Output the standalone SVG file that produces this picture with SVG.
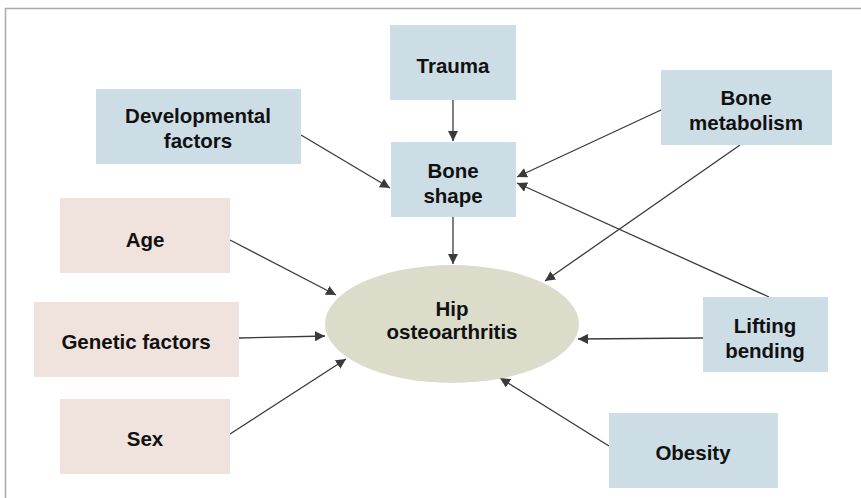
<svg xmlns="http://www.w3.org/2000/svg" width="861" height="498" viewBox="0 0 861 498">
<defs>
<marker id="ah" viewBox="0 0 10 10" refX="10" refY="5" markerWidth="10" markerHeight="10" markerUnits="userSpaceOnUse" orient="auto">
<path d="M0,0 L10,5 L0,10 z" fill="#3a3a3a"/>
</marker>
<style>
.b{fill:#cddde6}
.p{fill:#f0e2dc}
.t{font-family:"Liberation Sans",Arial,sans-serif;font-weight:bold;font-size:20.5px;fill:#111;text-anchor:middle;dominant-baseline:central}
.c line{stroke:#3a3a3a;stroke-width:1.3;marker-end:url(#ah)}
</style>
</defs>
<rect width="861" height="498" fill="#fff"/>
<path d="M5.5,498 V8.5 H861" fill="none" stroke="#aaa" stroke-width="1.5"/>
<g class="c">
<line x1="453" y1="100" x2="453" y2="141"/>
<line x1="453" y1="217" x2="453" y2="264"/>
<line x1="301" y1="135" x2="390" y2="188"/>
<line x1="661" y1="110" x2="517" y2="177"/>
<line x1="740" y1="145" x2="545" y2="281"/>
<line x1="769" y1="297" x2="517" y2="183"/>
<line x1="703" y1="338" x2="578" y2="339"/>
<line x1="609" y1="446" x2="500" y2="378"/>
<line x1="230" y1="240" x2="336" y2="295"/>
<line x1="239" y1="338" x2="325" y2="336"/>
<line x1="230" y1="434" x2="346" y2="359"/>
</g>
<g id="trauma"><rect class="b" x="390" y="25" width="126" height="75"/><text class="t" x="453" y="65">Trauma</text></g>
<g id="boneshape"><rect class="b" x="391" y="142" width="125" height="75"/><text class="t" x="453" y="170">Bone</text><text class="t" x="453" y="195">shape</text></g>
<g id="developmental"><rect class="b" x="96" y="89" width="205" height="75"/><text class="t" x="198" y="115">Developmental</text><text class="t" x="198" y="140">factors</text></g>
<g id="bonemetabolism"><rect class="b" x="661" y="70" width="171" height="75"/><text class="t" x="746" y="97">Bone</text><text class="t" x="746" y="122">metabolism</text></g>
<g id="age"><rect class="p" x="60" y="198" width="170" height="75"/><text class="t" x="145" y="239">Age</text></g>
<g id="genetic"><rect class="p" x="34" y="302" width="205" height="75"/><text class="t" x="136" y="341">Genetic factors</text></g>
<g id="sex"><rect class="p" x="60" y="399" width="170" height="75"/><text class="t" x="145" y="438">Sex</text></g>
<g id="lifting"><rect class="b" x="703" y="297" width="125" height="75"/><text class="t" x="765" y="325">Lifting</text><text class="t" x="765" y="350">bending</text></g>
<g id="obesity"><rect class="b" x="609" y="413" width="169" height="75"/><text class="t" x="693" y="452">Obesity</text></g>
<g id="hip"><ellipse cx="452" cy="324" rx="127" ry="59" fill="#dcdccb"/><text class="t" x="452" y="308">Hip</text><text class="t" x="452" y="331">osteoarthritis</text></g>
</svg>
